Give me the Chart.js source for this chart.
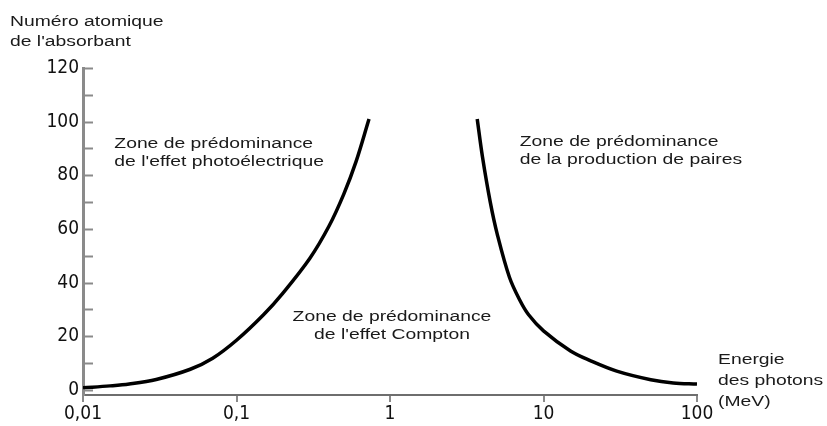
<!DOCTYPE html>
<html>
<head>
<meta charset="utf-8">
<script src="https://cdn.jsdelivr.net/npm/chart.js@4.4.1/dist/chart.umd.min.js"></script>
<style>
  html, body { margin: 0; padding: 0; background: #fff; }
  #wrap { width: 827px; height: 426px; position: relative; }
</style>
</head>
<body>
<div id="wrap"><canvas id="chart"></canvas></div>
<script>
// ===== DATA =====
const xTickValues = [0.01, 0.1, 1, 10, 100];
const xTickLabels = ["0,01", "0,1", "1", "10", "100"];
const yTickValues = [0, 10, 20, 30, 40, 50, 60, 70, 80, 90, 100, 110, 120];

// photoelectric / Compton boundary (energy in MeV, Z)
const photoEnergy = [0.01, 0.015, 0.02, 0.03, 0.05, 0.07, 0.1, 0.15, 0.2, 0.3, 0.4, 0.5, 0.6, 0.73];
const photoZ = [0.8, 1.5, 2.2, 3.9, 7.7, 11.8, 18.5, 28, 36, 49, 61, 73, 85, 101];

// Compton / pair production boundary
const pairEnergy = [3.7, 4.0, 4.5, 5, 6, 7, 8, 10, 15, 20, 30, 50, 70, 100];
const pairZ = [101, 87, 70, 58, 42, 33.5, 28, 22, 14.5, 11, 7, 3.8, 2.6, 2.2];

const yTitle = ["Numéro atomique", "de l'absorbant"];
const xTitle = ["Energie", "des photons", "(MeV)"];
const zoneLabels = [
  { x: 0.016, y: 91.5, lines: ["Zone de prédominance", "de l'effet photoélectrique"], align: "left" },
  { x: 7.0, y: 92.5, lines: ["Zone de prédominance", "de la production de paires"], align: "left" },
  { x: 1.03, y: 27, lines: ["Zone de prédominance", "de l'effet Compton"], align: "center" }
];

function toPoints(xs, ys) {
  return xs.map((x, i) => ({ x: x, y: ys[i] }));
}

// stretched text, as in the scanned figure
const TEXT_FONT = "14px 'Liberation Sans', Arial, sans-serif";
const STRETCH = 1.38;

function stretchedText(ctx, text, x, y, align) {
  ctx.save();
  ctx.font = TEXT_FONT;
  ctx.textBaseline = "middle";
  ctx.textAlign = "left";
  let w = ctx.measureText(text).width * STRETCH;
  let startX = align === "center" ? x - w / 2 : x;
  ctx.translate(startX, y);
  ctx.scale(STRETCH, 1);
  ctx.fillText(text, 0, 0);
  ctx.restore();
}

const figurePlugin = {
  id: "figureText",
  afterDraw(chart) {
    const ctx = chart.ctx;
    const xs = chart.scales.x;
    const ys = chart.scales.y;
    const area = chart.chartArea;

    // inward ticks on the y axis
    ctx.save();
    ctx.strokeStyle = "#8a8a8a";
    ctx.lineWidth = 2;
    yTickValues.forEach((v) => {
      const py = Math.round(ys.getPixelForValue(v)) + 0.5;
      ctx.beginPath();
      ctx.moveTo(area.left, py);
      ctx.lineTo(area.left + 10, py);
      ctx.stroke();
    });
    ctx.restore();

    ctx.save();
    ctx.fillStyle = "#1a1a1a";
    zoneLabels.forEach((z) => {
      const px = xs.getPixelForValue(z.x);
      const py = ys.getPixelForValue(z.y);
      z.lines.forEach((line, i) => {
        stretchedText(ctx, line, px, py + i * 18, z.align);
      });
    });

    yTitle.forEach((line, i) => {
      stretchedText(ctx, line, 10, 22 + i * 20, "left");
    });
    xTitle.forEach((line, i) => {
      stretchedText(ctx, line, area.right + 21, 360 + i * 21, "left");
    });
    ctx.restore();
  }
};

const tickFont = { family: "'Liberation Sans Narrow', 'Arial Narrow', 'DejaVu Sans Condensed', sans-serif", size: 19 };

const ctx = document.getElementById("chart").getContext("2d");
new Chart(ctx, {
  type: "line",
  data: {
    datasets: [
      {
        label: "photo",
        data: toPoints(photoEnergy, photoZ),
        borderColor: "#000",
        borderWidth: 3.5,
        pointRadius: 0,
        tension: 0.35,
        fill: false
      },
      {
        label: "paires",
        data: toPoints(pairEnergy, pairZ),
        borderColor: "#000",
        borderWidth: 3.5,
        pointRadius: 0,
        tension: 0.35,
        fill: false
      }
    ]
  },
  options: {
    responsive: true,
    maintainAspectRatio: false,
    animation: false,
    layout: { padding: { top: 68, right: 130, left: 0, bottom: 0 } },
    plugins: {
      legend: { display: false },
      tooltip: { enabled: false }
    },
    scales: {
      x: {
        type: "logarithmic",
        min: 0.01,
        max: 100,
        afterBuildTicks: (scale) => {
          scale.ticks = xTickValues.map((v) => ({ value: v }));
        },
        afterFit: (scale) => {
          scale.height = 31;
        },
        ticks: {
          autoSkip: false,
          maxRotation: 0,
          padding: 1,
          color: "#111",
          font: tickFont,
          callback: (value) => {
            const i = xTickValues.findIndex((v) => Math.abs(v - value) < v * 1e-6);
            return i >= 0 ? xTickLabels[i] : "";
          }
        },
        grid: {
          drawOnChartArea: false,
          drawTicks: true,
          tickLength: 7,
          color: "#8a8a8a",
          lineWidth: 2
        },
        border: { display: true, color: "#6e6e6e", width: 2 }
      },
      y: {
        min: -1.9,
        max: 120,
        afterBuildTicks: (scale) => {
          scale.ticks = yTickValues.map((v) => ({ value: v }));
        },
        afterFit: (scale) => {
          scale.width = 83;
        },
        ticks: {
          autoSkip: false,
          padding: 4,
          color: "#111",
          font: tickFont,
          callback: (value) => (value % 20 === 0 ? String(value) : "")
        },
        grid: {
          drawOnChartArea: false,
          drawTicks: false
        },
        border: { display: true, color: "#8a8a8a", width: 3 }
      }
    }
  },
  plugins: [figurePlugin]
});
</script>
</body>
</html>
